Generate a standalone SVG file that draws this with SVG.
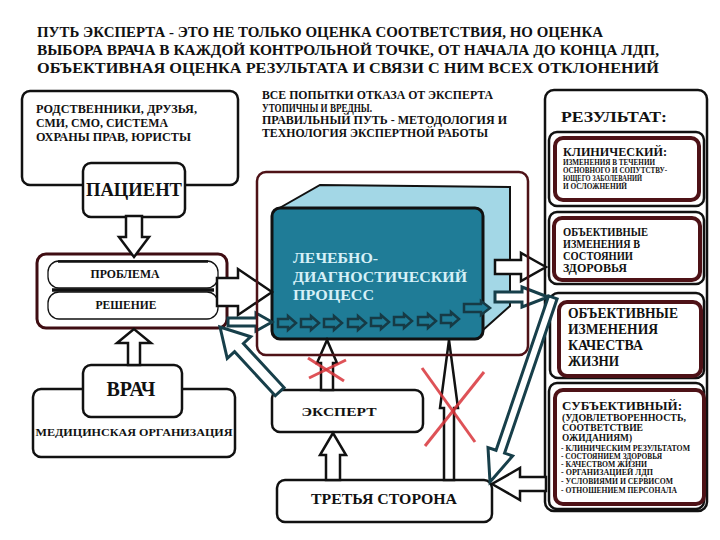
<svg xmlns="http://www.w3.org/2000/svg" width="720" height="540" viewBox="0 0 720 540">
<defs>
<style>
text{font-family:"Liberation Serif","Times New Roman",serif;font-weight:bold;fill:#111}
.box{fill:#fff;stroke:#111;stroke-width:2.5}
.mar{fill:#fff;stroke:#4e1217;stroke-width:4}
.frame{fill:none;stroke:#4e1217;stroke-width:2.5}
.ab{fill:#fff;stroke:#111;stroke-width:2.5;stroke-linejoin:miter}
.at{fill:#fff;stroke:#173f4a;stroke-width:3;stroke-linejoin:miter}
.sa{fill:#1f7c97;stroke:#163a45;stroke-width:2.5}
.x{stroke:#d8343a;stroke-width:3;stroke-opacity:0.85;fill:none}
.ldp{fill:#d6f0f7}
</style>
</defs>
<rect width="720" height="540" fill="#fff"/>

<g id="title">
<text x="37" y="37" font-size="15.5" textLength="566" lengthAdjust="spacingAndGlyphs">ПУТЬ ЭКСПЕРТА - ЭТО НЕ ТОЛЬКО ОЦЕНКА СООТВЕТСТВИЯ, НО ОЦЕНКА</text>
<text x="37" y="55" font-size="15.5" textLength="622" lengthAdjust="spacingAndGlyphs">ВЫБОРА ВРАЧА В КАЖДОЙ КОНТРОЛЬНОЙ ТОЧКЕ, ОТ НАЧАЛА ДО КОНЦА ЛДП,</text>
<text x="37" y="73" font-size="15.5" textLength="622" lengthAdjust="spacingAndGlyphs">ОБЪЕКТИВНАЯ ОЦЕНКА РЕЗУЛЬТАТА И СВЯЗИ С НИМ ВСЕХ ОТКЛОНЕНИЙ</text>
</g>

<g id="relatives">
<rect class="box" x="22" y="91" width="216" height="94" rx="8"/>
<text x="36" y="113" font-size="11.5" textLength="161" lengthAdjust="spacingAndGlyphs">РОДСТВЕННИКИ, ДРУЗЬЯ,</text>
<text x="36" y="127" font-size="11.5" textLength="132" lengthAdjust="spacingAndGlyphs">СМИ, СМО, СИСТЕМА</text>
<text x="36" y="141" font-size="11.5" textLength="155" lengthAdjust="spacingAndGlyphs">ОХРАНЫ ПРАВ, ЮРИСТЫ</text>
</g>

<g id="patient">
<rect class="box" x="83" y="163" width="102" height="54" rx="8"/>
<text x="134" y="196" font-size="19" text-anchor="middle" textLength="96" lengthAdjust="spacingAndGlyphs">ПАЦИЕНТ</text>
</g>

<g id="note">
<text x="262" y="99" font-size="11.5" textLength="231" lengthAdjust="spacingAndGlyphs">ВСЕ ПОПЫТКИ ОТКАЗА ОТ ЭКСПЕРТА</text>
<text x="262" y="112" font-size="11.5" textLength="110" lengthAdjust="spacingAndGlyphs">УТОПИЧНЫ И ВРЕДНЫ.</text>
<text x="262" y="124" font-size="11.5" textLength="245" lengthAdjust="spacingAndGlyphs">ПРАВИЛЬНЫЙ ПУТЬ - МЕТОДОЛОГИЯ И</text>
<text x="262" y="137" font-size="11.5" textLength="226" lengthAdjust="spacingAndGlyphs">ТЕХНОЛОГИЯ ЭКСПЕРТНОЙ РАБОТЫ</text>
</g>

<g id="problem-decision">
<rect x="37" y="254" width="190" height="74" rx="9" fill="#fff" stroke="#3f0d12" stroke-width="3"/>
<rect x="48" y="261" width="170" height="27" rx="11" fill="#fff" stroke="#111" stroke-width="1.3"/>
<rect x="48" y="292" width="170" height="27" rx="11" fill="#fff" stroke="#111" stroke-width="1.3"/>
<line x1="58" y1="261.5" x2="208" y2="261.5" stroke="#111" stroke-width="2.5"/>
<line x1="52" y1="290" x2="214" y2="290" stroke="#111" stroke-width="3.5"/>
<text x="125" y="278" font-size="11.5" text-anchor="middle" textLength="69" lengthAdjust="spacingAndGlyphs">ПРОБЛЕМА</text>
<text x="126" y="309" font-size="11.5" text-anchor="middle" textLength="61" lengthAdjust="spacingAndGlyphs">РЕШЕНИЕ</text>
</g>

<g id="doctor-org">
<rect class="box" x="33" y="389" width="202" height="68" rx="8"/>
<text x="134" y="436" font-size="11" text-anchor="middle" textLength="197" lengthAdjust="spacingAndGlyphs">МЕДИЦИНСКАЯ ОРГАНИЗАЦИЯ</text>
</g>
<g id="doctor">
<rect class="box" x="83" y="365" width="99" height="52" rx="8"/>
<text x="131" y="396" font-size="20" text-anchor="middle" textLength="49" lengthAdjust="spacingAndGlyphs">ВРАЧ</text>
</g>

<g id="ldp">
<polygon points="276,210 320,185 510,187 510,306 483,330" fill="#a3d7e6" stroke="#111" stroke-width="2"/>
<rect x="272" y="208" width="211" height="131" rx="8" fill="#1f7c97" stroke="#111" stroke-width="3"/>
<text class="ldp" x="293" y="263" font-size="15" textLength="85" lengthAdjust="spacingAndGlyphs">ЛЕЧЕБНО-</text>
<text class="ldp" x="293" y="282" font-size="15" textLength="174" lengthAdjust="spacingAndGlyphs">ДИАГНОСТИЧЕСКИЙ</text>
<text class="ldp" x="293" y="300" font-size="15" textLength="81" lengthAdjust="spacingAndGlyphs">ПРОЦЕСС</text>
<g id="flow">
<polygon class="sa" transform="translate(296,323)" points="0,0 -8,-7 -8,-4 -18,-4 -18,4 -8,4 -8,7"/>
<polygon class="sa" transform="translate(319,323)" points="0,0 -8,-7 -8,-4 -18,-4 -18,4 -8,4 -8,7"/>
<polygon class="sa" transform="translate(342,323)" points="0,0 -8,-7 -8,-4 -18,-4 -18,4 -8,4 -8,7"/>
<polygon class="sa" transform="translate(366,323)" points="0,0 -8,-7 -8,-4 -18,-4 -18,4 -8,4 -8,7"/>
<polygon class="sa" transform="translate(389,322)" points="0,0 -8,-7 -8,-4 -18,-4 -18,4 -8,4 -8,7"/>
<polygon class="sa" transform="translate(412,321)" points="0,0 -8,-7 -8,-4 -18,-4 -18,4 -8,4 -8,7"/>
<polygon class="sa" transform="translate(436,321)" points="0,0 -8,-7 -8,-4 -18,-4 -18,4 -8,4 -8,7"/>
<polygon class="sa" transform="translate(459,319)" points="0,0 -8,-7 -8,-4 -18,-4 -18,4 -8,4 -8,7"/>
<polygon class="sa" transform="translate(490,308)" points="0,0 -9,-7 -9,-4 -26,-4 -26,4 -9,4 -9,7"/>
</g>
</g>

<g id="expert">
<rect class="box" x="272" y="390" width="151" height="42" rx="8"/>
<text x="339" y="416" font-size="13.5" text-anchor="middle" textLength="75" lengthAdjust="spacingAndGlyphs">ЭКСПЕРТ</text>
</g>

<g id="third-party">
<rect class="box" x="277" y="480" width="215" height="42" rx="8"/>
<text x="384" y="504" font-size="14" text-anchor="middle" textLength="146" lengthAdjust="spacingAndGlyphs">ТРЕТЬЯ СТОРОНА</text>
</g>

<g id="result">
<rect class="box" x="545" y="90" width="162" height="421" rx="9"/>
<text x="561" y="122" font-size="15" textLength="106" lengthAdjust="spacingAndGlyphs">РЕЗУЛЬТАТ:</text>
</g>

<g id="clinical">
<rect class="box" x="549" y="132" width="155" height="74" rx="8" stroke-width="2"/>
<rect class="mar" x="555" y="138" width="144" height="62" rx="8"/>
<text x="563" y="156" font-size="12" font-weight="normal" textLength="104" lengthAdjust="spacingAndGlyphs">КЛИНИЧЕСКИЙ:</text>
<text x="563" y="165" font-size="7.5" textLength="92" lengthAdjust="spacingAndGlyphs">ИЗМЕНЕНИЯ В ТЕЧЕНИИ</text>
<text x="563" y="173" font-size="7.5" textLength="104" lengthAdjust="spacingAndGlyphs">ОСНОВНОГО И СОПУТСТВУ-</text>
<text x="563" y="181" font-size="7.5" textLength="79" lengthAdjust="spacingAndGlyphs">ЮЩЕГО ЗАБОЛЕВАНИЙ</text>
<text x="563" y="189" font-size="7.5" textLength="64" lengthAdjust="spacingAndGlyphs">И ОСЛОЖНЕНИЙ</text>
</g>

<g id="health">
<rect class="box" x="549" y="212" width="155" height="72" rx="8" stroke-width="2"/>
<rect class="mar" x="554" y="218" width="146" height="62" rx="8"/>
<text x="563" y="236" font-size="11.5" textLength="85" lengthAdjust="spacingAndGlyphs">ОБЪЕКТИВНЫЕ</text>
<text x="563" y="248" font-size="11.5" textLength="77" lengthAdjust="spacingAndGlyphs">ИЗМЕНЕНИЯ В</text>
<text x="563" y="260" font-size="11.5" textLength="70" lengthAdjust="spacingAndGlyphs">СОСТОЯНИИ</text>
<text x="563" y="272" font-size="11.5" textLength="64" lengthAdjust="spacingAndGlyphs">ЗДОРОВЬЯ</text>
</g>

<g id="quality">
<rect class="box" x="550" y="293" width="154" height="85" rx="8" stroke-width="2"/>
<rect class="mar" x="559" y="302" width="142" height="74" rx="8"/>
<text x="568" y="318" font-size="14" textLength="110" lengthAdjust="spacingAndGlyphs">ОБЪЕКТИВНЫЕ</text>
<text x="568" y="334" font-size="14" textLength="90" lengthAdjust="spacingAndGlyphs">ИЗМЕНЕНИЯ</text>
<text x="568" y="350" font-size="14" textLength="75" lengthAdjust="spacingAndGlyphs">КАЧЕСТВА</text>
<text x="568" y="366" font-size="14" textLength="51" lengthAdjust="spacingAndGlyphs">ЖИЗНИ</text>
</g>

<g id="subjective">
<rect class="box" x="549" y="383" width="155" height="126" rx="8" stroke-width="2"/>
<rect class="mar" x="555" y="390" width="149" height="114" rx="8"/>
<text x="562" y="410" font-size="12.5" textLength="120" lengthAdjust="spacingAndGlyphs">СУБЪЕКТИВНЫЙ:</text>
<text x="562" y="421" font-size="9.5" textLength="124" lengthAdjust="spacingAndGlyphs">(УДОВЛЕТВОРЕННОСТЬ,</text>
<text x="562" y="431" font-size="9.5" textLength="81" lengthAdjust="spacingAndGlyphs">СООТВЕТСТВИЕ</text>
<text x="562" y="441" font-size="9.5" textLength="70" lengthAdjust="spacingAndGlyphs">ОЖИДАНИЯМ)</text>
<text x="561" y="451" font-size="7.5" textLength="129" lengthAdjust="spacingAndGlyphs">- КЛИНИЧЕСКИМ РЕЗУЛЬТАТОМ</text>
<text x="561" y="459" font-size="7.5" textLength="101" lengthAdjust="spacingAndGlyphs">- СОСТОЯНИЕМ ЗДОРОВЬЯ</text>
<text x="561" y="467" font-size="7.5" textLength="86" lengthAdjust="spacingAndGlyphs">- КАЧЕСТВОМ ЖИЗНИ</text>
<text x="561" y="475" font-size="7.5" textLength="92" lengthAdjust="spacingAndGlyphs">- ОРГАНИЗАЦИЕЙ ЛДП</text>
<text x="561" y="484" font-size="7.5" textLength="112" lengthAdjust="spacingAndGlyphs">- УСЛОВИЯМИ И СЕРВИСОМ</text>
<text x="561" y="493" font-size="7.5" textLength="116" lengthAdjust="spacingAndGlyphs">- ОТНОШЕНИЕМ ПЕРСОНАЛА</text>
</g>

<g id="connectors">
<polygon class="ab" transform="translate(134,257) rotate(90)" points="0,0 -20,-15 -20,-8 -41,-8 -41,8 -20,8 -20,15"/>
<polygon class="ab" transform="translate(134,329) rotate(-90)" points="0,0 -14,-17 -14,-6 -36,-6 -36,6 -14,6 -14,17"/>
<polygon class="ab" transform="translate(272,292)" points="0,0 -34,-23 -34,-14 -55,-14 -55,14 -34,14 -34,23"/>
<polygon class="at" transform="translate(272,322)" points="0,0 -16,-9 -16,-4 -44,-4 -44,4 -16,4 -16,9"/>
<polygon class="at" transform="translate(220,327) rotate(227.3)" points="0,0 -28,-16 -28,-6 -88,-6 -88,6 -28,6 -28,16"/>
<polygon class="ab" transform="translate(327,340) rotate(-90)" points="0,0 -23,-10 -23,-6 -50,-6 -50,6 -23,6 -23,10"/>
<polygon class="ab" transform="translate(333,433) rotate(-90)" points="0,0 -22,-13 -22,-7 -47,-7 -47,7 -22,7 -22,13"/>
<polygon class="ab" transform="translate(449,340) rotate(-90)" points="0,0 -68,-9 -68,-5 -140,-5 -140,5 -68,5 -68,9"/>
<polygon class="ab" transform="translate(546,267)" points="0,0 -25,-14 -25,-7 -51,-7 -51,7 -25,7 -25,14"/>
<polygon class="at" transform="translate(548,297)" points="0,0 -26,-10 -26,-5 -53,-5 -53,5 -26,5 -26,10"/>
<polygon class="at" transform="translate(490,482) rotate(108.8)" points="0,0 -32,-13 -32,-4.5 -195,-4.5 -195,4.5 -32,4.5 -32,13"/>
<polygon class="ab" transform="translate(492,484) rotate(180)" points="0,0 -28,-16 -28,-7 -54,-7 -54,7 -28,7 -28,16"/>
</g>

<g id="ldp-frame">
<rect class="frame" x="257" y="172" width="271" height="183" rx="9"/>
</g>

<g id="crosses">
<line class="x" x1="308" y1="358" x2="344" y2="381"/>
<line class="x" x1="309" y1="378" x2="346" y2="360"/>
<line class="x" x1="422" y1="368" x2="475" y2="442"/>
<line class="x" x1="484" y1="372" x2="425" y2="446"/>
</g>
</svg>
